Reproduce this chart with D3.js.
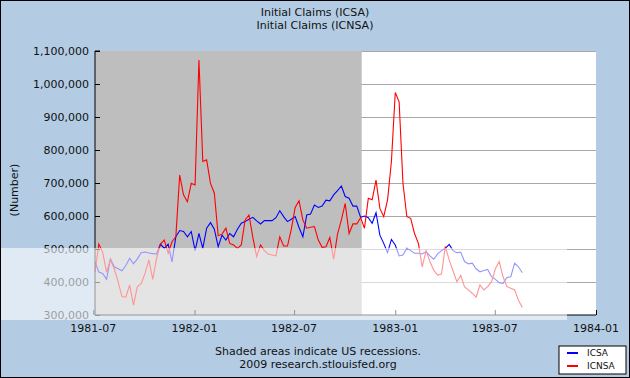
<!DOCTYPE html>
<html>
<head>
<meta charset="utf-8">
<script src="https://cdn.jsdelivr.net/npm/d3@7"></script>
<style>
	body { margin: 0; background: #fff; }
	svg text { font-family: "DejaVu Sans", Verdana, sans-serif; fill: #111; }
</style>
</head>
<body>
<svg id="chart" width="630" height="378"></svg>
<script>
// weekly initial claims, thousands, weeks ending 1981-07-04 ... 1983-08-20
var firstWeek = new Date(1981, 6, 4);
var icsa = [461,430,426,408,470,446,440,434,450,472,455,470,489,491,488,486,485,515,502,515,
	461,537,556,553,537,553,495,547,502,563,580,560,507,542,527,547,537,560,578,583,
	590,596,585,576,586,586,586,595,616,598,583,590,598,565,537,603,606,633,626,630,
	648,646,664,677,691,659,654,630,630,596,600,595,578,610,542,517,489,529,512,479,
	482,502,495,487,487,485,492,479,469,485,495,502,514,495,489,490,462,455,457,440,
	431,435,438,416,408,398,396,414,416,457,446,428];
var icnsa = [431,515,490,430,467,440,401,356,354,391,330,386,395,426,467,408,472,515,527,487,
	522,537,724,664,643,699,694,1073,765,770,699,669,540,545,563,517,512,502,512,588,
	603,535,477,512,495,485,482,479,537,509,509,560,626,646,588,563,566,568,527,505,
	507,535,469,545,588,638,547,576,576,595,563,654,649,709,623,598,649,765,974,946,
	699,598,593,547,517,446,495,462,436,421,424,507,467,434,401,420,385,376,366,354,
	391,376,386,401,440,462,416,386,381,376,345,323];
var seriesNames = ["ICSA", "ICNSA"];
var seriesColors = ["#0000ff", "#ff0000"];
var recessions = [["1981-07-01", "1982-11-01"]];
var xTicks = ["1981-07", "1982-01", "1982-07", "1983-01", "1983-07", "1984-01"];
var yTicks = [300000,400000,500000,600000,700000,800000,900000,1000000,1100000];

var parseDay = d3.timeParse("%Y-%m-%d");
var parseMonth = d3.timeParse("%Y-%m");
var weeks = icsa.map(function(d, i){ return d3.timeDay.offset(firstWeek, 7*i); });

var svg = d3.select("#chart");
var W = 630, H = 378;

// background + frame
svg.append("rect")
	.attr("width", W).attr("height", H)
	.style("fill", "#b3cce4")
	.style("stroke", "#000")
	.style("stroke-width", 2);

var x = d3.scaleTime()
	.domain([firstWeek, parseMonth("1984-01")])
	.range([95, 596]);
var y = d3.scaleLinear()
	.domain([300000, 1100000])
	.range([315, 51]);

var g = svg.append("g");

// plot area
g.append("rect")
	.attr("x", x.range()[0]).attr("y", y(1100000))
	.attr("width", x.range()[1] - x.range()[0])
	.attr("height", y(300000) - y(1100000))
	.style("fill", "#fff");

// gridlines
g.selectAll(".grid")
	.data(yTicks.slice(1))
.enter().append("line")
	.attr("class", "grid")
	.attr("x1", x.range()[0]).attr("x2", x.range()[1])
	.attr("y1", function(d){ return Math.round(y(d)) + 0.5; })
	.attr("y2", function(d){ return Math.round(y(d)) + 0.5; })
	.style("stroke", "#a8a8a8")
	.style("stroke-width", 1.2);

// recession shading
g.selectAll(".rec")
	.data(recessions)
.enter().append("rect")
	.attr("class", "rec")
	.attr("x", function(d){ return Math.max(x(parseDay(d[0])), x.range()[0]); })
	.attr("y", y(1100000))
	.attr("width", function(d){ return x(parseDay(d[1])) - Math.max(x(parseDay(d[0])), x.range()[0]); })
	.attr("height", y(300000) - y(1100000))
	.style("fill", "#bebebe");

// series
var line = d3.line()
	.x(function(d){ return x(d.date); })
	.y(function(d){ return y(d.value); });

[icsa, icnsa].forEach(function(vals, k){
	var pts = vals.map(function(v, i){ return {date: weeks[i], value: v*1000}; });
	g.append("path")
		.datum(pts)
		.attr("d", line)
		.style("fill", "none")
		.style("stroke", seriesColors[k])
		.style("stroke-width", 1.1);
});

// y axis
var yAxis = d3.axisRight(y)
	.tickValues(yTicks)
	.tickSize(5)
	.tickFormat("");
var ya = svg.append("g")
	.attr("transform", "translate(" + x.range()[0] + ",0)")
	.call(yAxis);
ya.selectAll("path, line").style("stroke", "#000");
ya.select(".domain").attr("d", "M5," + y(1100000) + "H0V" + y(300000));

svg.selectAll(".ylab")
	.data(yTicks)
.enter().append("text")
	.attr("class", "ylab")
	.attr("x", 89)
	.attr("y", function(d){ return y(d); })
	.attr("dy", "0.35em")
	.attr("text-anchor", "end")
	.style("font-size", "11px")
	.text(d3.format(","));

// x axis
var xAxis = d3.axisTop(x)
	.tickValues(xTicks.map(parseMonth))
	.tickSize(5)
	.tickFormat("");
var xa = svg.append("g")
	.attr("transform", "translate(0," + y(300000) + ")")
	.call(xAxis);
xa.selectAll("path, line").style("stroke", "#000");
xa.select(".domain").attr("d", "M" + x.range()[0] + ",0H" + x.range()[1]);

svg.selectAll(".xlab")
	.data(xTicks)
.enter().append("text")
	.attr("class", "xlab")
	.attr("x", function(d){ return x(parseMonth(d)); })
	.attr("y", 332)
	.attr("text-anchor", "middle")
	.style("font-size", "11px")
	.text(function(d){ return d; });

// light band across the lower part of the picture
svg.append("rect")
	.attr("x", 1).attr("y", 248)
	.attr("width", 566).attr("height", 72)
	.style("fill", "#fff")
	.style("opacity", 0.58);

// titles
svg.append("text")
	.attr("x", 315).attr("y", 16)
	.attr("text-anchor", "middle")
	.style("font-size", "11px")
	.text("Initial Claims (ICSA)");
svg.append("text")
	.attr("x", 315).attr("y", 29)
	.attr("text-anchor", "middle")
	.style("font-size", "11px")
	.text("Initial Claims (ICNSA)");

svg.append("text")
	.attr("transform", "translate(18,190) rotate(-90)")
	.attr("text-anchor", "middle")
	.style("font-size", "11px")
	.text("(Number)");

svg.append("text")
	.attr("x", 318).attr("y", 355)
	.attr("text-anchor", "middle")
	.style("font-size", "11px")
	.text("Shaded areas indicate US recessions.");
svg.append("text")
	.attr("x", 318).attr("y", 368)
	.attr("text-anchor", "middle")
	.style("font-size", "11px")
	.text("2009 research.stlouisfed.org");

// legend
var legend = svg.append("g")
	.attr("transform", "translate(559,346)");
legend.append("rect")
	.attr("width", 67).attr("height", 28)
	.style("fill", "#fff")
	.style("stroke", "#000");
legend.selectAll(".lg")
	.data(seriesNames)
.enter().append("line")
	.attr("x1", 8).attr("x2", 19)
	.attr("y1", function(d,i){ return 7 + i*13; })
	.attr("y2", function(d,i){ return 7 + i*13; })
	.style("stroke", function(d,i){ return seriesColors[i]; })
	.style("stroke-width", 2);
legend.selectAll(".lt")
	.data(seriesNames)
.enter().append("text")
	.attr("x", 28)
	.attr("y", function(d,i){ return 7 + i*13; })
	.attr("dy", "0.35em")
	.style("font-size", "9px")
	.text(function(d){ return d; });
</script>
</body>
</html>
